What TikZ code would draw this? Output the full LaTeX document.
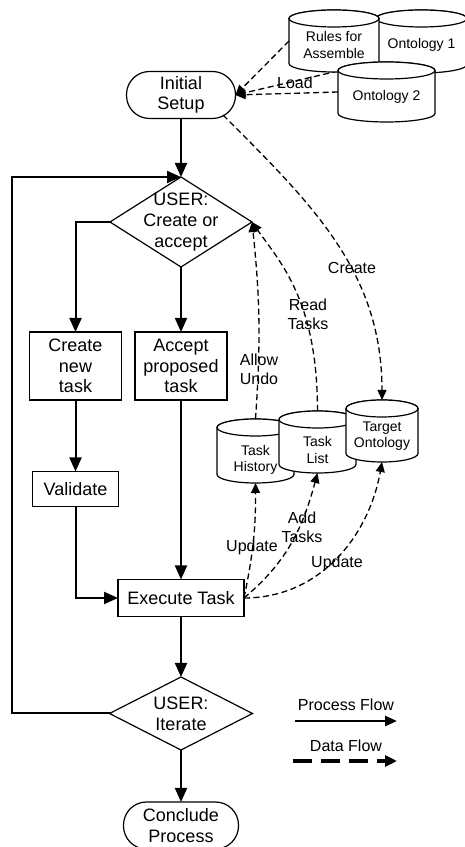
\documentclass[tikz,border=0pt]{standalone}
\usepackage{fontspec}
\setmainfont{Liberation Sans}
\usetikzlibrary{shapes.geometric, arrows.meta, calc}
\pgfdeclarelayer{background}
\pgfsetlayers{background,main}

% half height of a data store's elliptical caps
\def\cylry{8.5pt}

% data store drawn as a cylinder: name, centre, width, height, text shift, text
\newcommand\datastore[6]{%
  \node[minimum width=#3, minimum height=#4] (#1) at #2 {};
  \filldraw[cylline] ($(#1.north west)+(0,-\cylry)$) -- ($(#1.south west)+(0,\cylry)$)
     arc[start angle=180, end angle=360, x radius=#3/2, y radius=\cylry]
     -- ($(#1.north east)+(0,-\cylry)$)
     arc[start angle=0, end angle=180, x radius=#3/2, y radius=\cylry] -- cycle;
  \draw[cylline] ($(#1.north)+(0,-\cylry)$) ellipse[x radius=#3/2, y radius=\cylry];
  \node[cylfont] at ([yshift=#5]#1.center) {#6};
}

\begin{document}
\begin{tikzpicture}[x=1pt, y=1pt,
  every node/.style={inner sep=0pt, outer sep=0pt},
  mainfont/.style={font=\fontsize{18}{20.7}\selectfont},
  lblfont/.style={font=\fontsize{16}{19.3}\selectfont, align=center},
  cylfont/.style={font=\fontsize{14}{16.5}\selectfont, align=center},
  cylline/.style={draw, line width=1.2pt, fill=white},
  procbox/.style={draw, line width=1.2pt, fill=white, align=center, mainfont},
  terminal/.style={procbox, rounded corners=23pt, minimum width=#1, minimum height=47pt},
  decision/.style={diamond, draw, line width=1.2pt, fill=white},
  flow/.style={line width=2pt, -{Triangle[length=14pt, width=12pt]}},
  data/.style={line width=1.3pt, dash pattern=on 6pt off 3.5pt, -{Triangle[length=10pt, width=9pt]}},
  flowkey/.style={line width=2.6pt, -{Triangle[length=12pt, width=10pt]}},
  datakey/.style={line width=3.5pt, dash pattern=on 19pt off 9pt, -{Triangle[length=12pt, width=11pt]}},
]
\useasboundingbox (0,0) rectangle (465,847);

% ---- process nodes
\node[terminal=109pt] (init) at (181,752) {Initial\\Setup};
\node[decision, minimum width=142pt, minimum height=90pt,
      label={[mainfont, align=center]center:{USER:\\Create or\\accept}}] (d1) at (181,625) {};
\node[procbox, minimum width=92pt, minimum height=68pt] (create) at (75.5,481) {Create\\new\\task};
\node[procbox, minimum width=92pt, minimum height=68pt] (accept) at (181,481) {Accept\\proposed\\task};
\node[procbox, minimum width=86pt, minimum height=35pt] (valid) at (75.5,358) {Validate};
\node[procbox, minimum width=126pt, minimum height=37pt] (exec) at (181,249) {Execute Task};
\node[decision, minimum width=143pt, minimum height=73pt,
      label={[mainfont, align=center]center:{USER:\\Iterate}}] (d2) at (181,133.5) {};
\node[terminal=115pt] (concl) at (181,21.5) {Conclude\\Process};
\coordinate (loopx) at (12,0);

% ---- data stores
\datastore{ont1}{(421.5,805.5)}{91pt}{63pt}{-3.5pt}{Ontology 1}
\datastore{rules}{(334,806)}{90pt}{62pt}{-4pt}{Rules for\\Assemble}
\datastore{ont2}{(386.5,755)}{97pt}{60pt}{-5pt}{Ontology 2}
\datastore{hist}{(255.5,396)}{77pt}{64pt}{-9pt}{Task\\History}
\datastore{list}{(317.5,405)}{77pt}{62pt}{-8pt}{Task\\List}
\datastore{target}{(382,416)}{72pt}{62pt}{-5pt}{Target\\Ontology}

% ---- process flow
\draw[flow] (init.south) -- (d1.north);
\draw[flow] (d2.west) -- (d2.west -| loopx) |- (d1.north);
\draw[flow] (d1.west) -| (create.north);
\draw[flow] (d1.south) -- (accept.north);
\draw[flow] (create.south) -- (valid.north);
\draw[flow] (valid.south) |- (exec.west);
\draw[flow] (accept.south) -- (exec.north);
\draw[flow] (exec.south) -- (d2.north);
\draw[flow] (d2.south) -- (concl.north);

% ---- data flow
\begin{pgfonlayer}{background}
  \draw[data] ([yshift=-10pt]ont1.center) -- (init.east);
\end{pgfonlayer}
\draw[data] (rules.west) -- (init.east);
\draw[data] (ont2.west) -- (init.east);
\draw[data] ([shift={(42,-20)}]init.center) to[out=-45, in=90] (target.north);
\draw[data] (hist.north) to[bend right=5] (d1.east);
\draw[data] (list.north) .. controls +(90:110) and +(-55:50) .. (d1.east);
\draw[data] (exec.east) to[bend right=6] (hist.south);
\draw[data] (exec.east) to[out=40, in=-105] (list.south);
\draw[data] (exec.east) to[out=0, in=-100] (target.south);

% ---- connector labels
\node[lblfont] at (295,764) {Load};
\node[lblfont] at (352,579) {Create};
\node[lblfont] at (308,533) {Read\\Tasks};
\node[lblfont] at (259,478) {Allow\\Undo};
\node[lblfont] at (252,300) {Update};
\node[lblfont] at (302,320) {Add\\Tasks};
\node[lblfont] at (337,284) {Update};

% ---- legend
\node[lblfont] (keyproc) at (346,142) {Process Flow};
\coordinate (kp1) at (295,126);
\coordinate (kp2) at (397,126);
\draw[flowkey] (kp1) -- (kp2);
\node[lblfont] (keydata) at (346,101) {Data Flow};
\coordinate (kd1) at (293,86);
\coordinate (kd2) at (397,86);
\draw[datakey] (kd1) -- (kd2);
\end{tikzpicture}
\end{document}
